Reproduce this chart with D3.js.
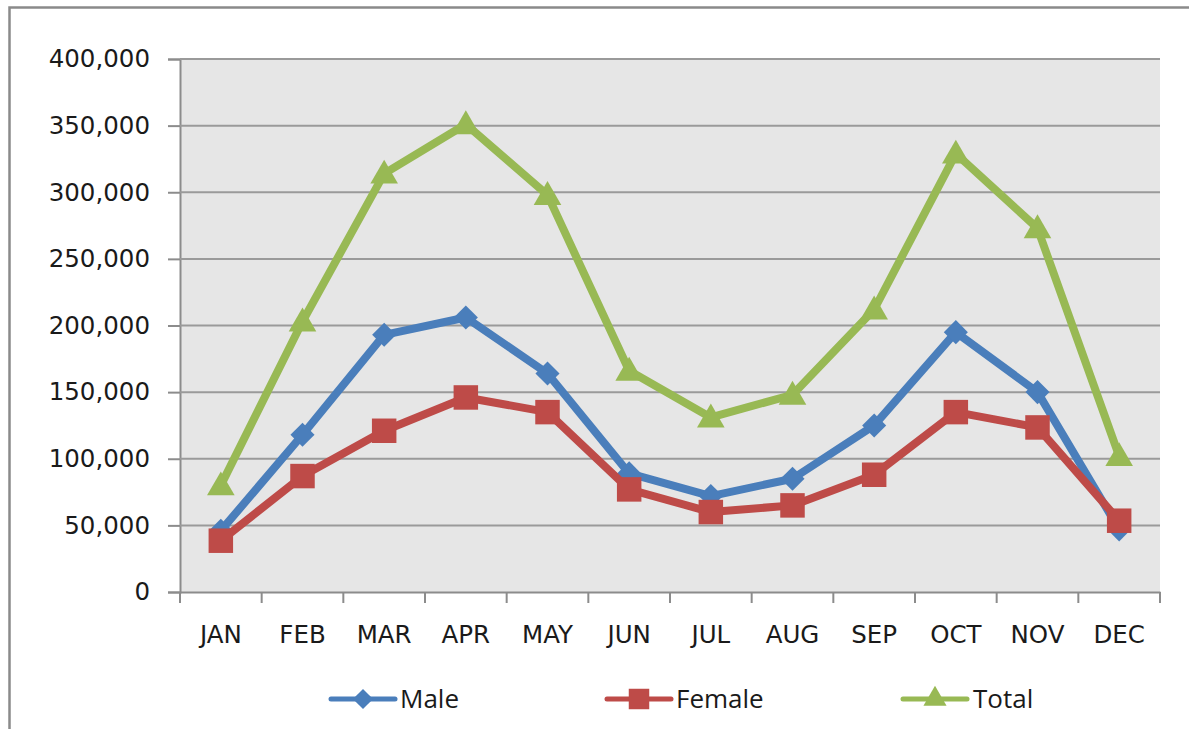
<!DOCTYPE html>
<html>
<head>
<meta charset="utf-8">
<script src="https://cdn.jsdelivr.net/npm/d3@7"></script>
<style>
  body { margin: 0; background: #fff; }
  svg { display: block; }
</style>
</head>
<body>
<div id="chart"></div>
<script>
// monthly counts
const months = ['JAN', 'FEB', 'MAR', 'APR', 'MAY', 'JUN', 'JUL', 'AUG', 'SEP', 'OCT', 'NOV', 'DEC'];
const male = [46000, 118000, 193000, 206000, 164000, 89000, 72000, 85000, 125000, 195000, 150000, 47000];
const female = [38500, 87000, 121000, 146000, 135000, 77000, 60000, 65000, 88000, 135000, 123500, 53500];
const total = [80000, 203000, 314000, 351000, 298000, 166000, 131000, 148000, 212000, 329000, 273000, 102000];
const yTicks = [0, 50000, 100000, 150000, 200000, 250000, 300000, 350000, 400000];

const width = 1189;
const height = 729;
const plot = { left: 180, right: 1160, top: 59, bottom: 592 };

const svg = d3.select('#chart')
  .append('svg')
  .attr('xmlns', 'http://www.w3.org/2000/svg')
  .attr('width', width)
  .attr('height', height);

// outer chart border (runs off the right and bottom edge)
svg.append('rect')
  .attr('x', 9.5).attr('y', 7.5)
  .attr('width', 1200).attr('height', 760)
  .attr('fill', 'none')
  .attr('stroke', '#8a8a8a')
  .attr('stroke-width', 2.5);

const x = d3.scaleBand().domain(months).range([plot.left, plot.right]);
const y = d3.scaleLinear().domain([0, 400000]).range([plot.bottom, plot.top]);

svg.append('rect')
  .attr('x', plot.left).attr('y', plot.top)
  .attr('width', plot.right - plot.left)
  .attr('height', plot.bottom - plot.top)
  .attr('fill', '#e6e6e6');

const font = '"DejaVu Sans", Verdana, sans-serif';

// y axis + gridlines
const yAxis = svg.append('g')
  .attr('transform', `translate(${plot.left},0)`)
  .call(d3.axisLeft(y).tickValues(yTicks).tickSize(12).tickPadding(18).tickFormat(d3.format(',')));
yAxis.select('.domain').attr('stroke', '#8c8c8c').attr('stroke-width', 2);
yAxis.selectAll('.tick line').attr('stroke', '#8c8c8c').attr('stroke-width', 2);
yAxis.selectAll('.tick text')
  .attr('font-family', font).attr('font-size', 24.5).attr('fill', '#1a1a1a');

svg.append('g')
  .selectAll('line')
  .data(yTicks.filter(d => d > 0))
  .join('line')
  .attr('x1', plot.left).attr('x2', plot.right)
  .attr('y1', d => y(d)).attr('y2', d => y(d))
  .attr('stroke', '#9a9a9a').attr('stroke-width', 2);

// x axis: ticks on category boundaries
const xAxis = svg.append('g')
  .attr('transform', `translate(0,${plot.bottom})`)
  .call(d3.axisBottom(x).tickSize(0).tickPadding(34));
xAxis.select('.domain').attr('stroke', '#8c8c8c').attr('stroke-width', 2);
xAxis.selectAll('.tick text')
  .attr('font-family', font).attr('font-size', 24.5).attr('fill', '#1a1a1a');

const bounds = months.map(m => x(m)).concat([x.range()[1]]);
svg.append('g')
  .selectAll('line')
  .data(bounds)
  .join('line')
  .attr('x1', d => d).attr('x2', d => d)
  .attr('y1', plot.bottom).attr('y2', plot.bottom + 11)
  .attr('stroke', '#8c8c8c').attr('stroke-width', 2);

// series (diamond = square turned 45deg, like Excel)
const series = [
  { name: 'Male', values: male, color: '#4a7ebb', shape: d3.symbolSquare, rot: 45, size: 290, lx: 331, tx: 400 },
  { name: 'Female', values: female, color: '#be4b48', shape: d3.symbolSquare, rot: 0, size: 600, lx: 607, tx: 676 },
  { name: 'Total', values: total, color: '#98b954', shape: d3.symbolTriangle, rot: 0, size: 330, lx: 903, tx: 973 }
];

const cx = (d, i) => x(months[i]) + x.bandwidth() / 2;
const line = d3.line().x(cx).y(d => y(d));

series.forEach(s => {
  const g = svg.append('g');
  g.append('path')
    .attr('d', line(s.values))
    .attr('fill', 'none')
    .attr('stroke', s.color)
    .attr('stroke-width', 8)
    .attr('stroke-linejoin', 'round');
  g.selectAll('path.mark')
    .data(s.values)
    .join('path')
    .attr('class', 'mark')
    .attr('transform', (d, i) => `translate(${cx(d, i)},${y(d) + (s.shape === d3.symbolTriangle ? 2 : 0)}) rotate(${s.rot})`)
    .attr('d', d3.symbol().type(s.shape).size(s.size))
    .attr('fill', s.color);
});

// legend
const legendY = 699;
series.forEach(s => {
  const g = svg.append('g');
  g.append('line')
    .attr('x1', s.lx).attr('x2', s.lx + 64)
    .attr('y1', legendY).attr('y2', legendY)
    .attr('stroke', s.color).attr('stroke-width', 5)
    .attr('stroke-linecap', 'round');
  g.append('path')
    .attr('transform', `translate(${s.lx + 32},${legendY}) rotate(${s.rot})`)
    .attr('d', d3.symbol().type(s.shape).size(s.size * 0.7))
    .attr('fill', s.color);
  g.append('text')
    .attr('x', s.tx).attr('y', legendY + 9)
    .attr('font-family', '"Open Sans", sans-serif')
    .attr('font-size', 26)
    .attr('fill', '#1a1a1a')
    .text(s.name);
});
</script>
</body>
</html>
